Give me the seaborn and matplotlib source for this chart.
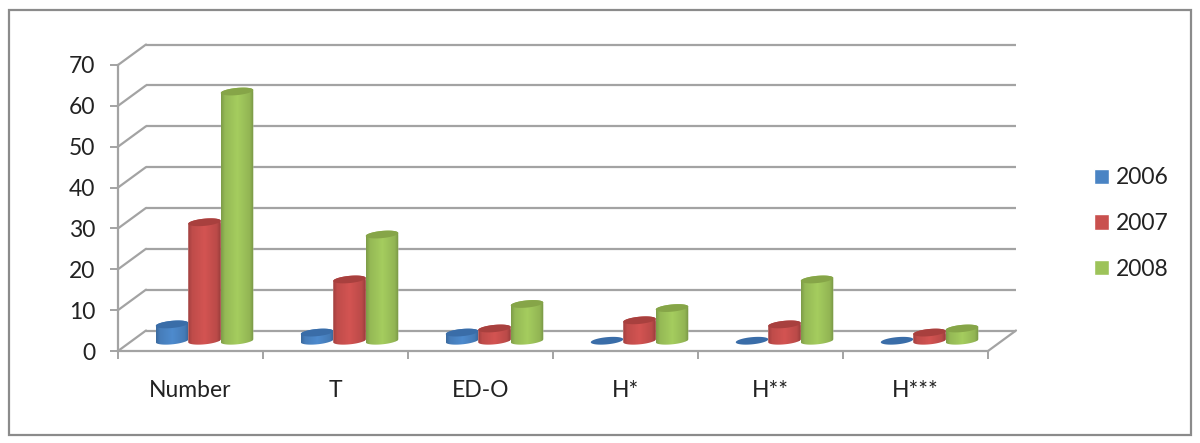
import matplotlib
matplotlib.use("Agg")
import matplotlib.pyplot as plt
import numpy as np
import pandas as pd
import seaborn as sns
from matplotlib.patches import PathPatch, Polygon, Rectangle
from matplotlib.path import Path

categories = ["Number", "T", "ED-O", "H*", "H**", "H***"]
years = ["2006", "2007", "2008"]
values_2006 = [4, 2, 2, 0, 0, 0]
values_2007 = [29, 15, 3, 5, 4, 2]
values_2008 = [61, 26, 9, 8, 15, 3]
y_ticks = [0, 10, 20, 30, 40, 50, 60, 70]

colors = {"2006": "#4a84c4", "2007": "#c9504e", "2008": "#9dc35a"}
top_colors = {"2006": "#3a6da8", "2007": "#a8403e", "2008": "#86a548"}
grid_color = "#a3a3a3"
text_color = "#222222"

W, H = 1200, 443
PLOT_W, PLOT_H = 870, 286
PX_X = PLOT_W / 6      # pixels per category
PX_Y = PLOT_H / 70     # pixels per unit
DEPTH_X, DEPTH_Y = 28, 20.5
FLOOR = 3              # units kept below zero in the bar axes, room for the round bottoms

sns.set_style("white")
plt.rcParams["font.family"] = ["Lato", "DejaVu Sans"]

fig = plt.figure(figsize=(W / 100, H / 100), dpi=100)
fig.patch.set_facecolor("white")


def place(x0, y0, z, floor=0):
    extra = floor * PX_Y
    a = fig.add_axes([x0 / W, 1 - (y0 + extra) / H, PLOT_W / W, (PLOT_H + extra) / H], zorder=z)
    a.patch.set_alpha(0)
    a.set_xlim(-0.5, 5.5)
    a.set_ylim(-floor, 70)
    return a


def outline(cx, cy, a, t):
    # ellipse seen from slightly above and to the left
    b = 3.6 / PX_Y
    s = 1.5 / PX_Y
    return cx + a * np.cos(t), cy + b * np.sin(t) + s * np.cos(t)


# outer frame
fig.add_artist(Rectangle((8.5 / W, 1 - 435 / H), 1182 / W, 425 / H, transform=fig.transFigure,
                         fill=False, edgecolor="#8b8b8b", linewidth=1.6))

# back wall
ax_back = place(118 + DEPTH_X, 351 - DEPTH_Y, 1)
ax_back.axis("off")
ax_back.hlines(y_ticks, -0.5, 5.5, color=grid_color, linewidth=1.6, clip_on=False)

# bars stand in the middle of the floor
ax_bars = place(118 + DEPTH_X / 2, 351 - DEPTH_Y / 2, 2, floor=FLOOR)
df = pd.DataFrame({
    "category": categories * 3,
    "year": [y for y in years for _ in categories],
    "value": values_2006 + values_2007 + values_2008,
})
sns.barplot(data=df, x="category", y="value", hue="year", hue_order=years, order=categories,
            palette=colors, width=0.672, gap=0, legend=False, errorbar=None, saturation=1, ax=ax_bars)

stops = [0.0, 0.12, 0.5, 0.88, 1.0]
shade = [0.8, 0.95, 1.05, 0.93, 0.76]
u = np.linspace(0, 1, 64)
z = 3
for year, container in zip(years, ax_bars.containers):
    rgb = np.array(matplotlib.colors.to_rgb(colors[year]))
    strip = np.clip(np.outer(np.interp(u, stops, shade), rgb), 0, 1)[np.newaxis, :, :]
    for bar in container:
        a = bar.get_width() / 2
        cx = bar.get_x() + a
        top = bar.get_height()
        t1 = np.linspace(np.pi, 2 * np.pi, 40)
        t2 = np.linspace(0, np.pi, 40)
        xl, yl = outline(cx, 0, a, t1)
        xu, yu = outline(cx, top, a, t2)
        verts = np.vstack([np.column_stack([xl, yl]), np.column_stack([xu, yu])])
        body = Path(np.vstack([verts, verts[0]]), closed=True)
        clip = PathPatch(body, transform=ax_bars.transData, visible=False)
        ax_bars.add_patch(clip)
        bar.set_zorder(z)
        bar.set_clip_path(clip)
        if top > 0:
            pad = 6 / PX_Y
            im = ax_bars.imshow(strip, extent=(cx - a, cx + a, -pad, top + pad), aspect="auto",
                                interpolation="bilinear", zorder=z + 0.1)
            im.set_clip_path(clip)
        xt, yt = outline(cx, top, a, np.linspace(0, 2 * np.pi, 80))
        ax_bars.add_patch(Polygon(np.column_stack([xt, yt]), closed=True, facecolor=top_colors[year],
                                  edgecolor="none", zorder=z + 0.2, clip_on=False))
        z += 1
ax_bars.set_xlim(-0.5, 5.5)
ax_bars.set_ylim(-FLOOR, 70)
ax_bars.axis("off")

# front axes with wall and floor edges
ax = place(118, 351, 3)
sns.despine(ax=ax, top=True, right=True)
for side in ["left", "bottom"]:
    ax.spines[side].set_color(grid_color)
    ax.spines[side].set_linewidth(1.6)
ax.set_yticks(y_ticks)
ax.set_xticks(np.arange(-0.5, 6, 1))
ax.set_xticks(np.arange(6), categories, minor=True)
ax.tick_params(axis="x", which="major", length=5.5, width=1.4, color=grid_color, labelbottom=False, bottom=True)
ax.tick_params(axis="x", which="minor", length=0, pad=21, labelsize=16.5, labelcolor=text_color)
ax.tick_params(axis="y", length=5.5, width=1.4, color=grid_color, pad=11, labelsize=16.5,
               labelcolor=text_color, left=True)
dx = DEPTH_X / PX_X
dy = DEPTH_Y / PX_Y
for v in y_ticks:
    ax.plot([-0.5, -0.5 + dx], [v, v + dy], color=grid_color, linewidth=1.6, clip_on=False)
ax.plot([5.5, 5.5 + dx], [0, dy], color=grid_color, linewidth=1.6, clip_on=False)

handles = [Rectangle((0, 0), 1, 1, facecolor=colors[y]) for y in years]
fig.legend(handles, years, loc="center left", bbox_to_anchor=(1089.5 / W, 1 - 223.5 / H), frameon=False,
           fontsize=16.5, handlelength=0.66, handleheight=0.66, handletextpad=0.3, labelspacing=1.07,
           labelcolor=text_color, borderpad=0.2, borderaxespad=0)

fig.savefig("out.png", dpi=100)
